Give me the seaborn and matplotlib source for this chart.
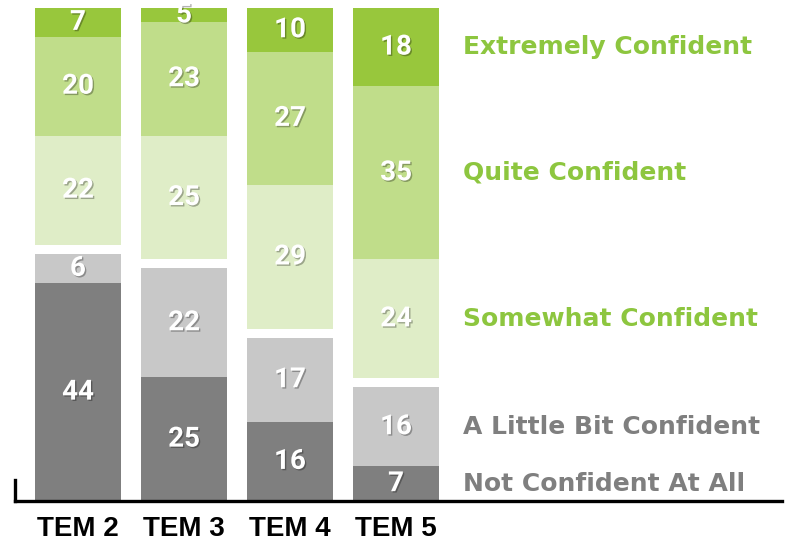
import matplotlib
matplotlib.use("Agg")
import matplotlib.pyplot as plt
import matplotlib.patheffects as pe
import seaborn as sns
import numpy as np
import pandas as pd

# ---- data ----
categories = ["TEM 2", "TEM 3", "TEM 4", "TEM 5"]
not_confident = [44, 25, 16, 7]
little_bit = [6, 22, 17, 16]
somewhat = [22, 25, 29, 24]
quite = [20, 23, 27, 35]
extremely = [7, 5, 10, 18]

level_names = ["Not Confident At All", "A Little Bit Confident",
               "Somewhat Confident", "Quite Confident", "Extremely Confident"]
series = [not_confident, little_bit, somewhat, quite, extremely]
colors = ["#7F7F7F", "#C8C8C8", "#DFEDC7", "#C0DD8A", "#98C73C"]
label_colors = ["#7F7F7F", "#7F7F7F", "#8DC63F", "#8DC63F", "#8DC63F"]

GAP = 1.8
YTOP = 99.6

sns.set_theme(style="white")
fig = plt.figure(figsize=(7.9, 5.43), dpi=100)
ax = fig.add_axes([15 / 790, (543 - 501) / 543, (782 - 15) / 790, (501 - 8) / 543])

num_font = ["Roboto", "DejaVu Sans"]
shadow = [pe.withSimplePatchShadow(offset=(1, -1), shadow_rgbFace="black", alpha=0.3)]

bottoms = np.zeros(len(categories))
centers_last = []
for k, (vals, col) in enumerate(zip(series, colors)):
    vals = np.array(vals, dtype=float)
    if k == 2:
        bottoms = bottoms + GAP
    df = pd.DataFrame({"cat": categories, "val": vals})
    sns.barplot(data=df, x="cat", y="val", order=categories, color=col,
                saturation=1, width=0.81, bottom=bottoms, ax=ax, linewidth=0,
                errorbar=None)
    tops = bottoms + vals
    for i, v in enumerate(vals):
        lo = bottoms[i]
        hi = min(tops[i], YTOP)
        yc = (lo + hi) / 2
        ax.text(i, yc, f"{int(v)}", ha="center", va="center", color="white",
                fontsize=20, fontweight="bold", family=num_font,
                path_effects=shadow)
    lo = bottoms[-1]
    hi = min(tops[-1], YTOP)
    centers_last.append((lo + hi) / 2)
    bottoms = tops

for name, yc, lc in zip(level_names, centers_last, label_colors):
    ax.text(3.63, yc, name, ha="left", va="center", color=lc, fontsize=18,
            fontweight="bold", family=["DejaVu Sans"])

ax.set_xlim(-0.594, 6.64)
ax.set_ylim(0, YTOP)
ax.set_xlabel("")
ax.set_ylabel("")
ax.set_yticks([])
ax.tick_params(axis="x", length=0, pad=11)
for lab in ax.get_xticklabels():
    lab.set_fontsize(20)
    lab.set_fontweight("bold")
    lab.set_family(["Liberation Sans", "DejaVu Sans"])
    lab.set_color("black")

for s in ["top", "right"]:
    ax.spines[s].set_visible(False)
ax.spines["bottom"].set_color("black")
ax.spines["bottom"].set_linewidth(2.4)
ax.spines["left"].set_color("black")
ax.spines["left"].set_linewidth(2.4)
ax.spines["left"].set_bounds(0, 4.2)
ax.patch.set_alpha(0)

fig.savefig("out.png", dpi=100)
